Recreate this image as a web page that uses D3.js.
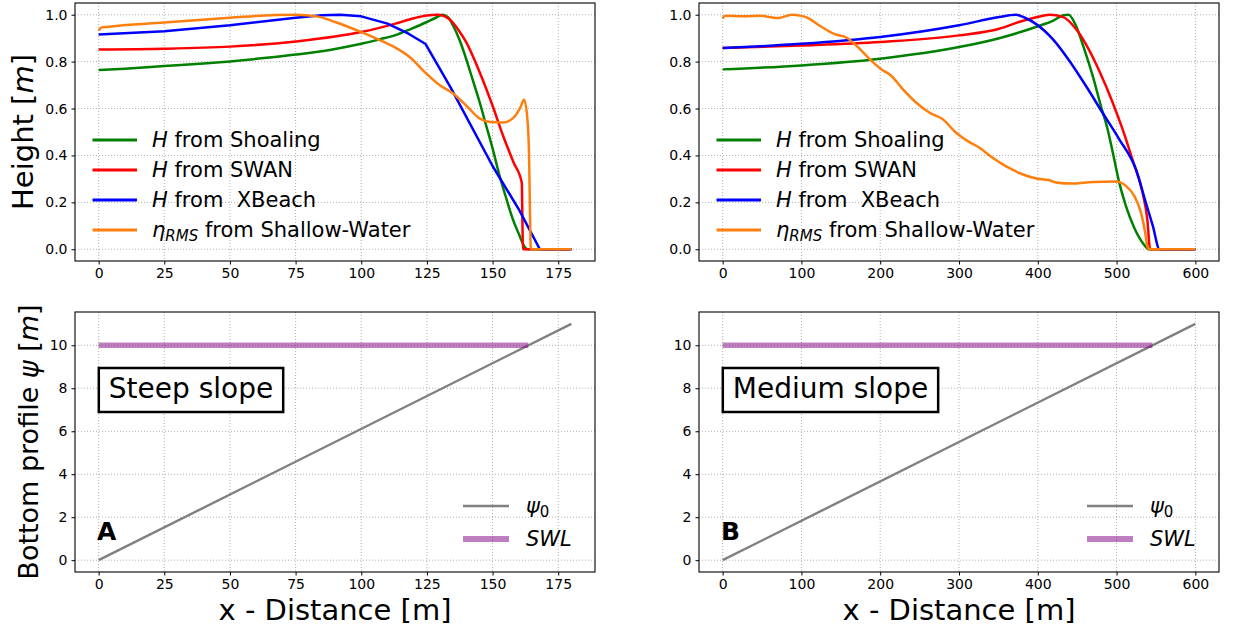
<!DOCTYPE html>
<html><head><meta charset="utf-8">
<script src="https://cdn.jsdelivr.net/npm/d3@7"></script>
<style>body{margin:0;background:#fff} svg{font-family:"DejaVu Sans",sans-serif} text{white-space:pre}</style>
</head><body><svg id="c" width="1237" height="628"></svg>
<script>
// ---------- Steep slope (A) ----------
const steepShoalX = [0,10,25,40,50,62,75,88,100,107,113,119,125,128,131,133,135,137.5,140,142.5,145,147.5,150,152.5,155,157.5,160,162.4,163.5,180];
const steepShoalY = [0.764,0.770,0.781,0.792,0.801,0.814,0.830,0.850,0.876,0.895,0.913,0.940,0.969,0.985,1.0,0.99,0.953,0.89,0.81,0.72,0.63,0.53,0.43,0.32,0.225,0.135,0.065,0.007,0,0];
const steepSwanX = [0,25,50,75,100,113,120,125,129,133.7,137,140,145,150,154,158,161.1,161.6,180];
const steepSwanY = [0.852,0.855,0.864,0.886,0.926,0.962,0.985,0.997,1.0,0.98,0.935,0.882,0.757,0.612,0.484,0.37,0.285,0,0];
const steepXbX = [0,25,50,75,85,92,100,110,118,124.5,134,150,160,168,180];
const steepXbY = [0.916,0.93,0.955,0.987,0.998,1.0,0.993,0.962,0.919,0.875,0.69,0.355,0.17,0,0];
const steepSwX = [0,1,3,25,50,67,75,83,90,100,107.5,113,118.4,124.7,129.8,135,140,145.2,149,154,157.9,160.5,162,163.3,163.8,164.6,180];
const steepSwY = [0.933,0.945,0.948,0.967,0.987,0.999,1.0,0.993,0.969,0.926,0.89,0.86,0.82,0.75,0.70,0.664,0.612,0.557,0.543,0.541,0.56,0.603,0.637,0.55,0.44,0,0];
const steepBedX = [0,180];
const steepSwlX = [0,163.6];

// ---------- Medium slope (B) ----------
const medShoalX = [0,100,200,300,351,377,402,419,431.6,439,448.5,459,469.6,480,488.6,497,503.4,511.8,522.4,533,541,600];
const medShoalY = [0.767,0.784,0.8125,0.862,0.9,0.925,0.953,0.974,0.997,1.0,0.953,0.853,0.74,0.612,0.512,0.384,0.284,0.185,0.092,0.028,0,0];
const medSwanX = [0,100,200,300,351,377,398,415,431.6,448.5,461,478,495,507.6,520,533,539,542.6,600];
const medSwanY = [0.858,0.869,0.884,0.912,0.94,0.97,0.989,1.0,0.991,0.939,0.875,0.761,0.626,0.512,0.384,0.242,0.128,0,0];
const medXbX = [0,100,200,300,351,372,385,398,419,440,461,482,503.4,524.5,537,546,554.5,600];
const medXbY = [0.858,0.876,0.905,0.955,0.99,1.0,0.985,0.96,0.896,0.804,0.697,0.583,0.469,0.341,0.2,0.1,0,0];
const medSwX = [0,3.4,26.5,47.6,60,70.7,87.6,100,106.5,123.4,142.3,157,169.7,186.5,201.3,214,228.6,245.5,262.3,279,296,310.7,325.5,342.3,355,369,378,398,414,423,444,470,499,512,522.4,531,536.3,539,542,600];
const medSwY = [0.984,0.996,0.993,0.996,0.99,0.986,1.0,0.995,0.989,0.953,0.917,0.903,0.868,0.811,0.768,0.74,0.683,0.626,0.583,0.555,0.498,0.462,0.434,0.391,0.363,0.337,0.323,0.302,0.295,0.285,0.28,0.287,0.289,0.27,0.228,0.156,0.071,0.014,0,0];
const medBedX = [0,600];
const medSwlX = [0,545.5];

const bedY = [0,11];
const swlY = [10,10];

// ---------- ticks ----------
const steepXTicks = [0,25,50,75,100,125,150,175];
const medXTicks = [0,100,200,300,400,500,600];
const heightTicks = [0,0.2,0.4,0.6,0.8,1.0];
const bedTicks = [0,2,4,6,8,10];

const seriesNames = ["Shoaling","SWAN"," XBeach","Shallow-Water"];
const seriesColors = ["#008000","#ff0000","#0000ff","#ff7f0e"];
const slopeNames = ["Steep slope","Medium slope"];
const panelLetters = ["A","B"];

const svg = d3.select('#c');
const colL = {x0:75, x1:595}, colR = {x0:699, x1:1219};
const rowT = {y0:3, y1:261}, rowB = {y0:312, y1:572};

function frame(col,row,xDom,yDom,xTicks,yTicks,yFmt){
  const x = d3.scaleLinear().domain(xDom).range([col.x0,col.x1]);
  const y = d3.scaleLinear().domain(yDom).range([row.y1,row.y0]);
  const g = svg.append('g');
  g.selectAll('.gx').data(xTicks).enter().append('line')
    .attr('x1',d=>x(d)).attr('x2',d=>x(d)).attr('y1',row.y0).attr('y2',row.y1)
    .attr('stroke','#b0b0b0').attr('stroke-width',1).attr('stroke-dasharray','1,2');
  g.selectAll('.gy').data(yTicks).enter().append('line')
    .attr('y1',d=>y(d)).attr('y2',d=>y(d)).attr('x1',col.x0).attr('x2',col.x1)
    .attr('stroke','#b0b0b0').attr('stroke-width',1).attr('stroke-dasharray','1,2');
  const ax = g.append('g').attr('transform',`translate(0,${row.y1})`)
    .call(d3.axisBottom(x).tickValues(xTicks).tickSize(3.5).tickPadding(4).tickFormat(d3.format('d')));
  const ay = g.append('g').attr('transform',`translate(${col.x0},0)`)
    .call(d3.axisLeft(y).tickValues(yTicks).tickSize(3.5).tickPadding(4).tickFormat(yFmt));
  [ax,ay].forEach(a=>{
    a.select('.domain').remove();
    a.selectAll('text').attr('font-size',14).attr('fill','#000').attr('font-family','DejaVu Sans');
    a.selectAll('line').attr('stroke','#000');
  });
  return {x,y,g};
}
function drawFrameBorder(col,row){
  svg.append('rect').attr('x',col.x0).attr('y',row.y0).attr('width',col.x1-col.x0).attr('height',row.y1-row.y0)
    .attr('fill','none').attr('stroke','#000').attr('stroke-width',1.1);
}
function line(p,xs,ys,color,w,op,curve){
  const gen = d3.line().x(d=>p.x(d[0])).y(d=>p.y(d[1])).curve(curve||d3.curveMonotoneX);
  p.g.append('path').datum(xs.map((v,i)=>[v,ys[i]])).attr('d',gen)
    .attr('fill','none').attr('stroke',color).attr('stroke-width',w)
    .attr('stroke-linejoin','round').attr('opacity',op||1);
}
function topLegend(col){
  const lx = col.x0+17.5;
  seriesNames.forEach((nm,i)=>{
    const yy = 140+30*i;
    svg.append('line').attr('x1',lx).attr('x2',lx+44.5).attr('y1',yy).attr('y2',yy)
      .attr('stroke',seriesColors[i]).attr('stroke-width',3);
    const t = svg.append('text').attr('x',lx+59.5).attr('y',yy+7).attr('font-size',21).attr('fill','#000');
    if(i<3){
      t.append('tspan').attr('font-style','italic').text('H');
      t.append('tspan').text(' from '+nm);
    } else {
      t.append('tspan').attr('font-style','italic').text('η');
      t.append('tspan').attr('font-style','italic').attr('font-size',15).attr('dy',4).text('RMS');
      t.append('tspan').attr('dy',-4).text(' from '+nm);
    }
  });
}
function botLegend(col){
  const lx = col.x0+388;
  [['#808080',2.6,1],['#800080',6,0.5]].forEach((s,i)=>{
    const yy = 506+33*i;
    svg.append('line').attr('x1',lx).attr('x2',lx+46).attr('y1',yy).attr('y2',yy)
      .attr('stroke',s[0]).attr('stroke-width',s[1]).attr('opacity',s[2]);
    const t = svg.append('text').attr('x',lx+63).attr('y',yy+7).attr('font-size',21).attr('fill','#000');
    if(i===0){
      t.append('tspan').attr('font-style','italic').text('ψ');
      t.append('tspan').attr('font-size',15).attr('dy',4).text('0');
    } else {
      t.append('tspan').attr('font-style','italic').text('SWL');
    }
  });
}

const f1 = d3.format('.1f');
const fi = d3.format('d');
const panels = [
  {col:colL, xDom:[-9,189], xTicks:steepXTicks,
   top:[[steepShoalX,steepShoalY],[steepSwanX,steepSwanY],[steepXbX,steepXbY],[steepSwX,steepSwY]],
   linearIdx:[2], bedX:steepBedX, swlX:steepSwlX, k:0},
  {col:colR, xDom:[-30,630], xTicks:medXTicks,
   top:[[medShoalX,medShoalY],[medSwanX,medSwanY],[medXbX,medXbY],[medSwX,medSwY]],
   linearIdx:[], bedX:medBedX, swlX:medSwlX, k:1}
];
panels.forEach(P=>{
  const pt = frame(P.col,rowT,P.xDom,[-0.05,1.05],P.xTicks,heightTicks,f1);
  P.top.forEach((s,i)=>line(pt,s[0],s[1],seriesColors[i],2.5,1,P.linearIdx.includes(i)?d3.curveLinear:d3.curveMonotoneX));
  drawFrameBorder(P.col,rowT);
  topLegend(P.col);

  const pb = frame(P.col,rowB,P.xDom,[-0.55,11.55],P.xTicks,bedTicks,fi);
  line(pb,P.bedX,bedY,'#808080',2.4,1,d3.curveLinear);
  line(pb,P.swlX,swlY,'#800080',5.5,0.5,d3.curveLinear);
  drawFrameBorder(P.col,rowB);
  botLegend(P.col);

  const bx = P.col.x0+23.8;
  const box = svg.append('rect').attr('x',bx).attr('y',368).attr('height',44)
    .attr('fill','#fff').attr('stroke','#000').attr('stroke-width',2.5);
  const txt = svg.append('text').attr('x',bx+10).attr('y',398).attr('font-size',28).attr('fill','#000').text(slopeNames[P.k]);
  const w = txt.node().getComputedTextLength();
  box.attr('width',w+20);
  svg.append('text').attr('x',P.col.x0+22).attr('y',540).attr('font-size',25).attr('font-weight','bold').attr('fill','#000').text(panelLetters[P.k]);

  svg.append('text').attr('x',(P.col.x0+P.col.x1)/2).attr('y',620).attr('text-anchor','middle')
    .attr('font-size',29).attr('fill','#000').text('x - Distance [m]');
});

const yl1 = svg.append('text').attr('transform',`translate(33,${(rowT.y0+rowT.y1)/2}) rotate(-90)`)
  .attr('text-anchor','middle').attr('font-size',29).attr('fill','#000');
yl1.append('tspan').text('Height [');
yl1.append('tspan').attr('font-style','italic').text('m');
yl1.append('tspan').text(']');
const yl2 = svg.append('text').attr('transform',`translate(38,${(rowB.y0+rowB.y1)/2}) rotate(-90)`)
  .attr('text-anchor','middle').attr('font-size',27).attr('fill','#000');
yl2.append('tspan').text('Bottom profile ');
yl2.append('tspan').attr('font-style','italic').text('ψ');
yl2.append('tspan').text(' [');
yl2.append('tspan').attr('font-style','italic').text('m');
yl2.append('tspan').text(']');
</script></body></html>
